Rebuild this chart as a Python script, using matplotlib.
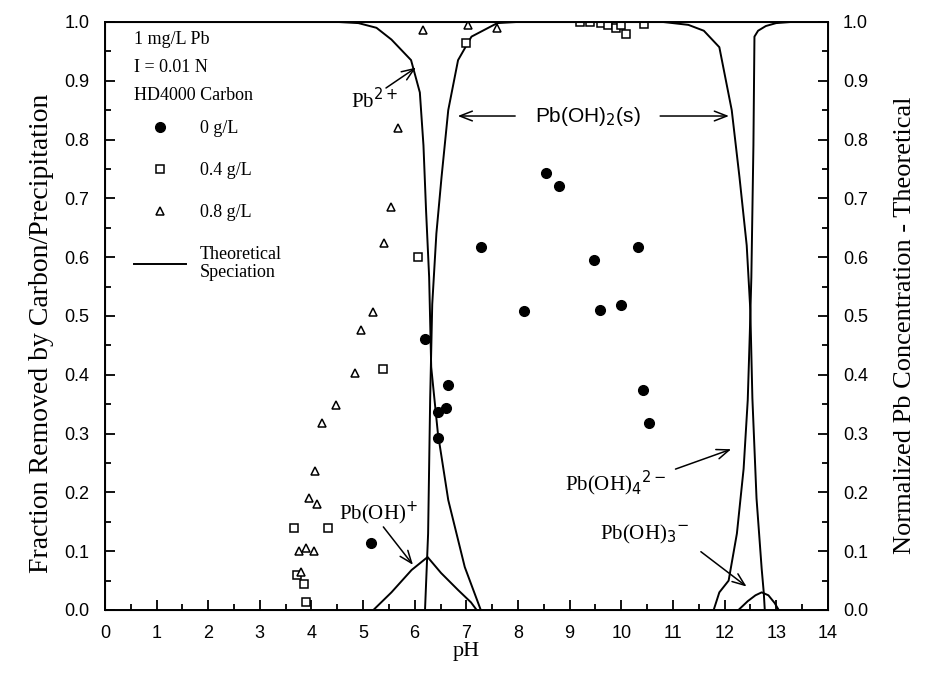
import matplotlib
matplotlib.use("Agg")
import matplotlib.pyplot as plt
from matplotlib.lines import Line2D
from matplotlib.ticker import MultipleLocator, FormatStrFormatter

# measured points, 0 g/L carbon (filled circles)
ph_0 = [5.16, 6.20, 6.65, 6.45, 6.61, 6.45, 7.28, 8.11, 8.55, 8.80, 9.48, 9.58, 10.00, 10.33, 10.42, 10.54]
fr_0 = [0.114, 0.461, 0.383, 0.337, 0.344, 0.292, 0.617, 0.508, 0.743, 0.721, 0.595, 0.510, 0.518, 0.617, 0.374, 0.318]

# 0.4 g/L carbon (open squares)
ph_04 = [3.90, 3.85, 3.72, 3.67, 4.32, 5.38, 6.07, 7.00, 9.20, 9.40, 9.60, 9.75, 9.90, 10.00, 10.10, 10.45]
fr_04 = [0.014, 0.045, 0.060, 0.140, 0.140, 0.410, 0.600, 0.964, 1.000, 1.000, 0.998, 0.995, 0.990, 0.995, 0.980, 0.997]

# 0.8 g/L carbon (open triangles)
ph_08 = [3.75, 3.80, 3.90, 4.05, 3.95, 4.10, 4.07, 4.20, 4.47, 4.85, 4.97, 5.20, 5.40, 5.55, 5.68, 6.17, 7.03, 7.60]
fr_08 = [0.100, 0.065, 0.105, 0.100, 0.190, 0.180, 0.236, 0.318, 0.349, 0.403, 0.476, 0.507, 0.624, 0.685, 0.820, 0.986, 0.995, 0.990]

# theoretical speciation curves
ph_pb2 = [0, 4.5, 4.91, 5.26, 5.55, 5.93, 6.10, 6.17, 6.22, 6.28, 6.32, 6.45, 6.65, 6.97, 7.28]
fr_pb2 = [1.0, 1.0, 0.998, 0.99, 0.97, 0.935, 0.88, 0.79, 0.68, 0.566, 0.413, 0.30, 0.187, 0.073, 0.0]

ph_pboh = [5.20, 5.55, 5.94, 6.25, 6.51, 6.84, 7.09, 7.20]
fr_pboh = [0.0, 0.03, 0.068, 0.09, 0.063, 0.034, 0.013, 0.0]

ph_pboh2 = [6.20, 6.26, 6.30, 6.34, 6.42, 6.52, 6.65, 6.84, 7.10, 7.60, 8.00, 10.80, 11.30, 11.60, 11.90,
            12.14, 12.29, 12.43, 12.50, 12.54, 12.62, 12.72, 12.76, 12.78]
fr_pboh2 = [0.0, 0.13, 0.36, 0.52, 0.64, 0.736, 0.85, 0.935, 0.975, 0.998, 1.0, 1.0, 0.995, 0.985, 0.957,
            0.85, 0.736, 0.62, 0.51, 0.36, 0.19, 0.07, 0.03, 0.0]

ph_pboh3 = [12.27, 12.45, 12.60, 12.72, 12.85, 12.97, 13.05]
fr_pboh3 = [0.0, 0.015, 0.025, 0.03, 0.025, 0.012, 0.0]

ph_pboh4 = [11.79, 11.90, 12.08, 12.24, 12.37, 12.45, 12.49, 12.52, 12.56, 12.58, 12.65, 12.80, 13.00, 13.30, 14.0]
fr_pboh4 = [0.0, 0.03, 0.05, 0.13, 0.24, 0.357, 0.47, 0.566, 0.79, 0.975, 0.985, 0.993, 0.998, 1.0, 1.0]

serif = "Liberation Serif"
sans = "Liberation Sans"

fig = plt.figure(figsize=(9.28, 6.85), dpi=100)
ax = fig.add_axes([0.113, 0.1095, 0.779, 0.8585])

lw = 1.4
for xs, ys in [(ph_pb2, fr_pb2), (ph_pboh, fr_pboh), (ph_pboh2, fr_pboh2),
               (ph_pboh3, fr_pboh3), (ph_pboh4, fr_pboh4)]:
    ax.plot(xs, ys, color="black", lw=lw)

ax.plot(ph_0, fr_0, "o", color="black", ms=7, ls="none")
ax.plot(ph_04, fr_04, "s", mfc="white", mec="black", mew=1.1, ms=6, ls="none")
ax.plot(ph_08, fr_08, "^", mfc="white", mec="black", mew=1.1, ms=6, ls="none")

ax.set_xlim(0, 14)
ax.set_ylim(0, 1.0)
ax.xaxis.set_major_locator(MultipleLocator(1))
ax.xaxis.set_minor_locator(MultipleLocator(0.5))
ax.yaxis.set_major_locator(MultipleLocator(0.1))
ax.yaxis.set_minor_locator(MultipleLocator(0.05))
ax.yaxis.set_major_formatter(FormatStrFormatter("%.1f"))
ax.tick_params(which="both", direction="in", top=False, right=False, width=1.3)
ax.tick_params(which="major", length=7, labelsize=13, pad=11)
ax.tick_params(which="minor", length=4)
for lab in ax.get_xticklabels() + ax.get_yticklabels():
    lab.set_family(sans)
for s in ax.spines.values():
    s.set_linewidth(1.4)

ax2 = ax.twinx()
ax2.set_ylim(0, 1.0)
ax2.yaxis.set_major_locator(MultipleLocator(0.1))
ax2.yaxis.set_minor_locator(MultipleLocator(0.05))
ax2.yaxis.set_major_formatter(FormatStrFormatter("%.1f"))
ax2.tick_params(which="both", direction="in", width=1.3)
ax2.tick_params(which="major", length=7, labelsize=13, pad=11)
ax2.tick_params(which="minor", length=4)
for lab in ax2.get_yticklabels():
    lab.set_family(sans)

ax.set_xlabel("pH", family=serif, fontsize=16, labelpad=0)
ax.set_ylabel("Fraction Removed by Carbon/Precipitation", family=serif, fontsize=20)
ax2.set_ylabel("Normalized Pb Concentration - Theoretical", family=serif, fontsize=19)
ax.yaxis.set_label_coords(-0.071, 0.47)
ax2.yaxis.set_label_coords(1.092, 0.485)

# legend
handles = [
    Line2D([], [], marker="o", color="black", ls="none", ms=7),
    Line2D([], [], marker="s", mfc="white", mec="black", mew=1.1, ls="none", ms=6),
    Line2D([], [], marker="^", mfc="white", mec="black", mew=1.1, ls="none", ms=6),
    Line2D([], [], color="black", lw=lw),
]
labels = ["0 g/L", "0.4 g/L", "0.8 g/L", "Theoretical\nSpeciation"]
leg = ax.legend(handles, labels, loc="upper left", bbox_to_anchor=(0.018, 1.013), frameon=False,
                title="1 mg/L Pb\nI = 0.01 N\nHD4000 Carbon", alignment="left",
                prop={"family": serif, "size": 13}, title_fontproperties={"family": serif, "size": 13},
                labelspacing=1.38, handlelength=2.9, handletextpad=0.75)
leg.get_title().set_linespacing(1.85)
leg.get_texts()[3].set_linespacing(1.1)
leg._legend_box.sep = 12

arrow = dict(arrowstyle="->,head_length=0.9,head_width=0.35", color="black", lw=1.1)
tk = dict(family=serif, fontsize=15, ha="center", va="center")

ax.annotate("", xy=(6.07, 0.925), xytext=(5.4, 0.885), arrowprops=arrow)
ax.text(5.22, 0.866, "Pb$^{2+}$", **tk)

ax.text(9.35, 0.84, "Pb(OH)$_2$(s)", family=sans, fontsize=15, ha="center", va="center")
ax.annotate("", xy=(6.78, 0.84), xytext=(8.0, 0.84), arrowprops=arrow)
ax.annotate("", xy=(12.14, 0.84), xytext=(10.7, 0.84), arrowprops=arrow)

ax.text(5.3, 0.165, "Pb(OH)$^{+}$", **tk)
ax.annotate("", xy=(6.0, 0.073), xytext=(5.36, 0.145), arrowprops=arrow)

ax.text(9.9, 0.215, "Pb(OH)$_4$$^{2-}$", **tk)
ax.annotate("", xy=(12.18, 0.275), xytext=(11.0, 0.238), arrowprops=arrow)

ax.text(10.45, 0.128, "Pb(OH)$_3$$^{-}$", **tk)
ax.annotate("", xy=(12.47, 0.037), xytext=(11.5, 0.102), arrowprops=arrow)

fig.savefig("out.png", dpi=100)
